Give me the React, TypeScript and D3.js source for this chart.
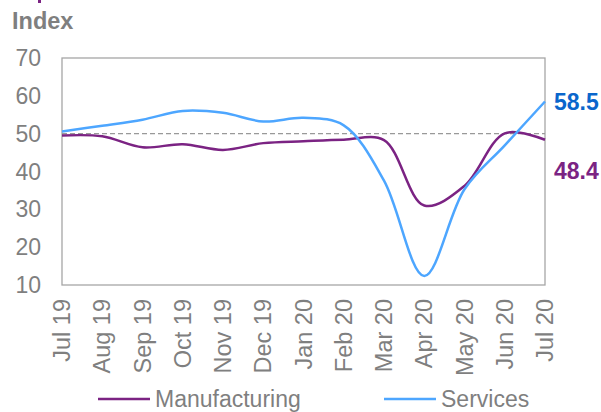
import React from "react";
import * as d3 from "d3";

const months = ["Jul 19","Aug 19","Sep 19","Oct 19","Nov 19","Dec 19","Jan 20","Feb 20","Mar 20","Apr 20","May 20","Jun 20","Jul 20"];
const manufacturing = [49.5, 49.3, 46.4, 47.2, 45.7, 47.5, 48.0, 48.4, 48.3, 31.0, 36.2, 50.1, 48.4];
const services = [50.6, 52.1, 53.7, 56.0, 55.5, 53.2, 54.2, 52.2, 37.6, 12.4, 35.3, 46.9, 58.5];
const yTicks = [10, 20, 30, 40, 50, 60, 70];

const W = 601, H = 412;
const M = { left: 62, right: 545, top: 58, bottom: 285 };
const FONT = "Liberation Sans, Arial, sans-serif";
const GREY = "#7f7f7f";
const PURPLE = "#7b2383";
const BLUE = "#4da6ff";

export default function App() {
  const x = d3.scalePoint<string>().domain(months).range([M.left, M.right]);
  const y = d3.scaleLinear().domain([10, 70]).range([M.bottom, M.top]);
  const line = d3.line<number>()
    .x((_, i) => x(months[i]) as number)
    .y((d) => y(d))
    .curve(d3.curveCatmullRom.alpha(0.5));

  return (
    <svg width={W} height={H} style={{ position: "absolute", left: 0, top: 0, fontFamily: FONT }}>
      <rect x={0} y={0} width={W} height={H} fill="#fff" />
      <rect x={38} y={0} width={3} height={3} fill={PURPLE} />
      <text x={12} y={29} fontSize={23.5} fontWeight="bold" fill={GREY}>Index</text>
      {yTicks.map((t) => (
        <text key={t} x={41} y={y(t) + 8} fontSize={23} fill={GREY} textAnchor="end">{t}</text>
      ))}
      <rect x={M.left} y={M.top} width={M.right - M.left} height={M.bottom - M.top} fill="none" stroke="#a6a6a6" strokeWidth={1.3} />
      <line x1={M.left} x2={M.right} y1={y(50)} y2={y(50)} stroke="#999" strokeWidth={1.3} strokeDasharray="5,3" />
      <path d={line(manufacturing) || ""} fill="none" stroke={PURPLE} strokeWidth={2.5} />
      <path d={line(services) || ""} fill="none" stroke={BLUE} strokeWidth={2.5} />
      <text x={554} y={y(58.5) + 8} fontSize={23} fontWeight="bold" fill="#0a66cc">58.5</text>
      <text x={554} y={179} fontSize={23} fontWeight="bold" fill={PURPLE}>48.4</text>
      {months.map((m) => (
        <text key={m} transform={`translate(${(x(m) as number) + 8},299) rotate(-90)`} fontSize={23.5} fill={GREY} textAnchor="end">{m}</text>
      ))}
      <line x1={98} x2={150} y1={399} y2={399} stroke={PURPLE} strokeWidth={2.5} />
      <text x={155} y={407} fontSize={23} fill={GREY}>Manufacturing</text>
      <line x1={384} x2={436} y1={399} y2={399} stroke={BLUE} strokeWidth={2.5} />
      <text x={441} y={407} fontSize={23} fill={GREY}>Services</text>
    </svg>
  );
}
